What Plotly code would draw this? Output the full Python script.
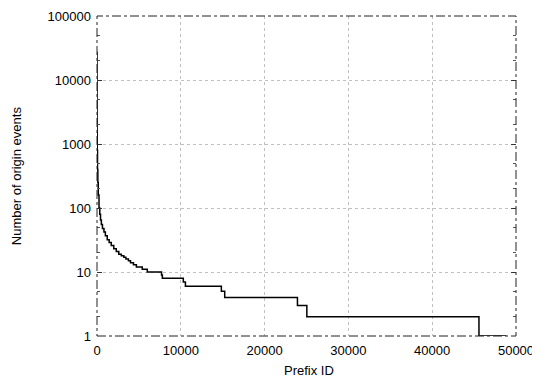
import plotly.graph_objects as go

# Step data: prefix ID where each count level starts, and count
prefix_id = [0, 1, 3, 8, 15, 30, 60, 100, 150, 240, 330, 420, 520, 650, 830, 1000,
             1220, 1450, 1700, 2000, 2300, 2600, 2900, 3200, 3450, 3750, 4000, 4350,
             4700, 5400, 6000, 7700, 7800, 10300, 10550, 14840, 15240, 23920, 25040,
             45580, 48840]
events = [27000, 9000, 5000, 2500, 1500, 800, 400, 250, 160, 100, 80, 65, 55, 48, 42, 37,
          32, 29, 26, 23, 21, 19, 18, 17, 16, 15, 14, 13,
          12, 11, 10, 9, 8, 7, 6, 5, 4, 3, 2,
          1, 1]

x_ticks = [0, 10000, 20000, 30000, 40000, 50000]
y_ticks = [1, 10, 100, 1000, 10000, 100000]
y_labels = ["1", "10", "100", "1000", "10000", "100000"]

font = "Liberation Sans, Arial, sans-serif"

fig = go.Figure()
fig.add_trace(go.Scatter(
    x=prefix_id, y=events, mode="lines", line_shape="hv",
    line=dict(color="black", width=1.5), showlegend=False,
))

fig.update_layout(
    width=532, height=370,
    margin=dict(l=89, r=24, t=8, b=42, autoexpand=False),
    paper_bgcolor="white", plot_bgcolor="white",
    font=dict(family=font, size=13, color="black"),
    xaxis=dict(
        range=[0, 50000], tickvals=x_ticks, ticktext=[str(v) for v in x_ticks],
        showgrid=True, gridcolor="#c0c0c0", griddash="dot", gridwidth=1,
        zeroline=False, showline=False, ticks="", ticklen=0, automargin=False,
        ticklabelstandoff=5, tickfont=dict(size=13),
    ),
    yaxis=dict(
        type="log", range=[0, 5], tickvals=y_ticks, ticktext=y_labels,
        showgrid=True, gridcolor="#c0c0c0", griddash="dot", gridwidth=1,
        zeroline=False, showline=False, automargin=False,
        ticks="inside", ticklen=5, tickcolor="#333333", mirror="ticks",
        minor=dict(ticks="inside", ticklen=3, tickcolor="#555555", dtick="D2", showgrid=False),
        ticklabelstandoff=5, tickfont=dict(size=13),
    ),
    annotations=[
        dict(text="Prefix ID", xref="paper", yref="paper", x=0.507, y=-0.109,
             xanchor="center", yanchor="middle", showarrow=False, font=dict(size=13)),
        dict(text="Number of origin events", xref="paper", yref="paper", x=-0.193, y=0.5,
             xanchor="center", yanchor="middle", textangle=-90, showarrow=False,
             font=dict(size=13)),
    ],
)

fig.add_shape(type="rect", xref="x domain", yref="y domain", x0=0, x1=1, y0=0, y1=1,
              line=dict(color="#222222", width=1, dash="dashdot"), layer="above")

fig.write_html("out.html")
